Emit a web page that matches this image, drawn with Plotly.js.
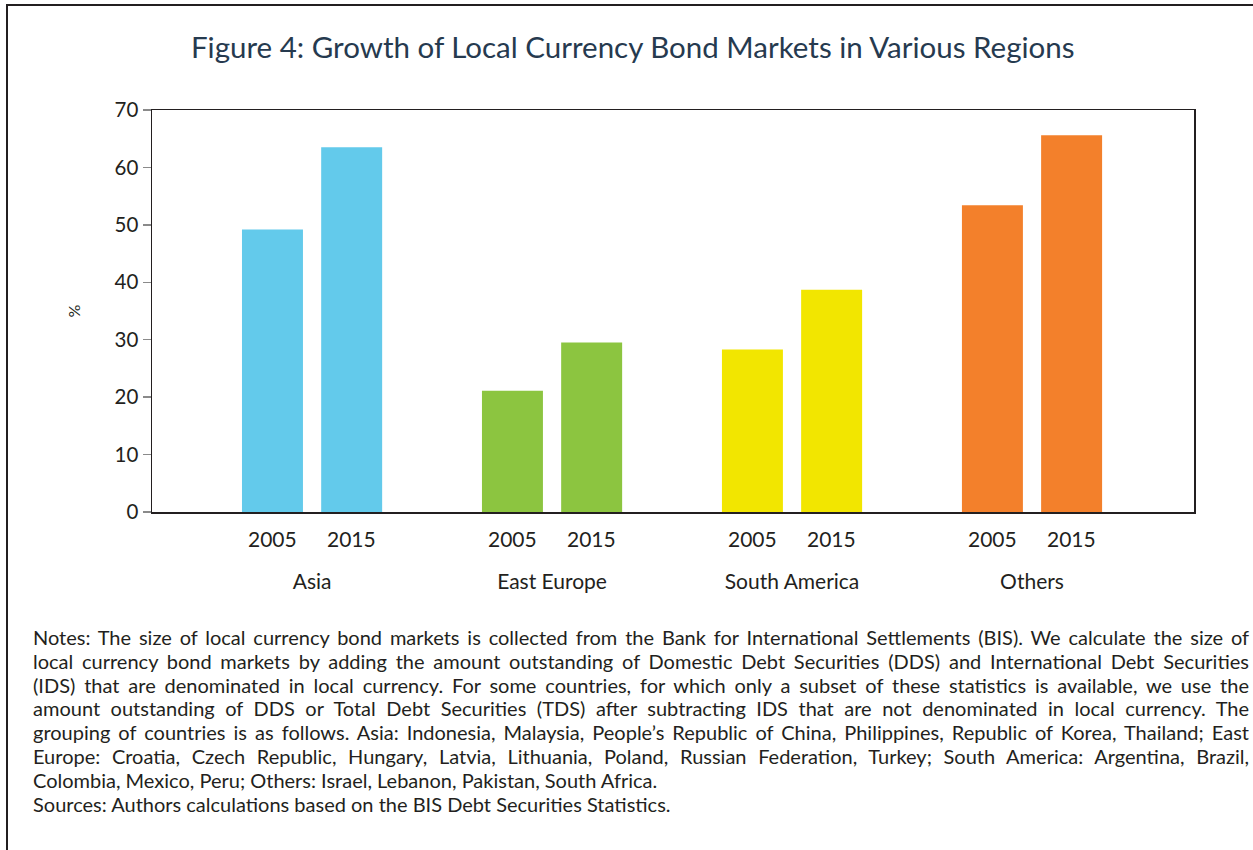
<!DOCTYPE html>
<html>
<head>
<meta charset="utf-8">
<script src="https://cdn.plot.ly/plotly-3.0.1.min.js"></script>
<style>
  html, body { margin: 0; padding: 0; background: #fff; }
  #wrap { position: relative; width: 1253px; height: 850px; }
  #frame { position: absolute; left: 6px; top: 4px; right: 0; bottom: 0;
           border-top: 2px solid #231f20; border-left: 2px solid #231f20; pointer-events: none; }
</style>
</head>
<body>
<div id="wrap">
  <div id="chart" style="width:1253px;height:850px;"></div>
  <div id="frame"></div>
</div>
<script>
// ---- data ----
const regions = ['Asia', 'East Europe', 'South America', 'Others'];
const years = ['2005', '2015'];
const values2005 = [49.2, 21.1, 28.3, 53.4];
const values2015 = [63.5, 29.5, 38.7, 65.6];
const regionColors = ['#63CAEB', '#8CC540', '#F2E600', '#F3802B'];
const yTickVals = [0, 10, 20, 30, 40, 50, 60, 70];
const titleText = 'Figure 4: Growth of Local Currency Bond Markets in Various Regions';
const yTitle = '%';
const noteLines = [
  'Notes: The size of local currency bond markets is collected from the Bank for International Settlements (BIS). We calculate the size of',
  'local currency bond markets by adding the amount outstanding of Domestic Debt Securities (DDS) and International Debt Securities',
  '(IDS) that are denominated in local currency. For some countries, for which only a subset of these statistics is available, we use the',
  'amount outstanding of DDS or Total Debt Securities (TDS) after subtracting IDS that are not denominated in local currency. The',
  'grouping of countries is as follows. Asia: Indonesia, Malaysia, People\u2019s Republic of China, Philippines, Republic of Korea, Thailand; East',
  'Europe: Croatia, Czech Republic, Hungary, Latvia, Lithuania, Poland, Russian Federation, Turkey; South America: Argentina, Brazil,',
  'Colombia, Mexico, Peru; Others: Israel, Lebanon, Pakistan, South Africa.',
  'Sources: Authors calculations based on the BIS Debt Securities Statistics.'
];
const justified = [true, true, true, true, true, true, false, false];

// ---- layout constants ----
const W = 1253, H = 850;
const M = { l: 152, r: 59, t: 110, b: 338 };
const plotH = H - M.t - M.b;
const plotW = W - M.l - M.r;
const bargap = 0.34, bargroupgap = 0.23;
const FONT = 'Lato, "Open Sans", sans-serif';
const TXT = '#231f20';

const traces = [
  { type: 'bar', name: years[0], x: regions, y: values2005,
    marker: { color: regionColors }, hoverinfo: 'x+y' },
  { type: 'bar', name: years[1], x: regions, y: values2015,
    marker: { color: regionColors }, hoverinfo: 'x+y' }
];

const annotations = [];
// year labels under each bar (category index +/- group offset)
const off = (1 - bargap) / 4;
regions.forEach((r, i) => {
  years.forEach((yr, j) => {
    annotations.push({
      text: yr, xref: 'x', yref: 'paper', x: i + (j === 0 ? -off : off), y: 0,
      yshift: -26, xanchor: 'center', yanchor: 'middle', showarrow: false,
      font: { family: FONT, size: 21, color: TXT }
    });
  });
});
// notes
const noteLeft = 31, noteRight = 1247, noteTop = 637, noteStep = 23.8;
noteLines.forEach((ln, k) => {
  annotations.push({
    text: ln, xref: 'paper', yref: 'paper',
    x: (noteLeft - M.l) / plotW, y: (H - M.b - (noteTop + k * noteStep)) / plotH,
    xanchor: 'left', yanchor: 'middle', showarrow: false, align: 'left',
    font: { family: FONT, size: 20, color: TXT }
  });
});

const layout = {
  width: W, height: H,
  margin: M,
  paper_bgcolor: 'rgba(0,0,0,0)', plot_bgcolor: '#fff',
  showlegend: false,
  barmode: 'group', bargap: bargap, bargroupgap: bargroupgap,
  title: { text: titleText, x: 0.505, xref: 'container', y: 1 - 48 / H, yref: 'container',
           xanchor: 'center', yanchor: 'middle',
           font: { family: FONT, size: 29.5, color: '#263a4f' } },
  xaxis: {
    type: 'category', range: [-0.667, 3.675], fixedrange: true,
    showline: true, linecolor: '#231f20', linewidth: 1.5, mirror: true,
    ticks: '', showgrid: false, zeroline: false,
    ticklabelstandoff: 50,
    tickfont: { family: FONT, size: 21, color: TXT }
  },
  yaxis: {
    range: [0, 70], tickvals: yTickVals, fixedrange: true,
    showline: true, linecolor: '#231f20', linewidth: 1.5, mirror: true,
    ticks: 'outside', ticklen: 8, tickwidth: 1.5, tickcolor: '#8a8a8a',
    showgrid: false, zeroline: false,
    tickfont: { family: FONT, size: 20.5, color: TXT },
    title: { text: yTitle, standoff: 30, font: { family: FONT, size: 16, color: TXT } }
  },
  annotations: annotations
};

const gd = document.getElementById('chart');
Plotly.newPlot(gd, traces, layout, { displayModeBar: false, staticPlot: true }).then(() => {
  try {
    const nBefore = regions.length * years.length;
    const upd = {};
    const groups = gd.querySelectorAll('.annotation');
    groups.forEach(g => {
      const idx = +g.getAttribute('data-index');
      const k = idx - nBefore;
      if (k < 0 || !justified[k]) return;
      const t = g.querySelector('text');
      if (!t) return;
      const w = t.getBBox().width;
      const spaces = (noteLines[k].match(/ /g) || []).length;
      const ws = (noteRight - noteLeft - w) / spaces;
      upd['annotations[' + idx + '].text'] =
        '<span style="word-spacing:' + ws.toFixed(2) + 'px">' + noteLines[k] + '</span>';
    });
    return Plotly.relayout(gd, upd);
  } catch (e) { console.log(e); }
});
</script>
</body>
</html>
